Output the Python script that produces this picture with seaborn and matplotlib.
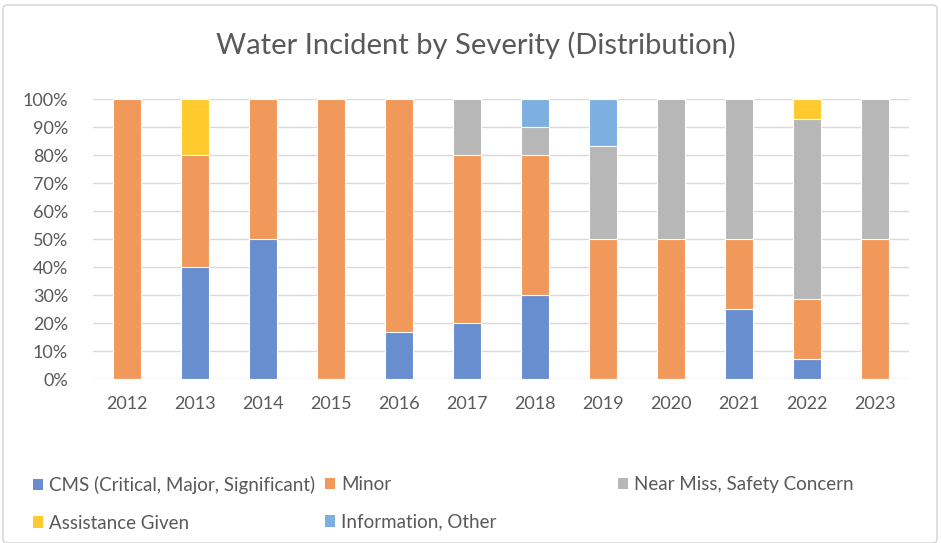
import numpy as np
import pandas as pd
import seaborn as sns
import matplotlib.pyplot as plt
from matplotlib.patches import Patch, FancyBboxPatch

# Share of incidents per year, by severity (percent)
years = ['2012', '2013', '2014', '2015', '2016', '2017',
         '2018', '2019', '2020', '2021', '2022', '2023']
cms = [0, 40, 50, 0, 16.67, 20, 30, 0, 0, 25, 7.14, 0]
minor = [100, 40, 50, 100, 83.33, 60, 50, 50, 50, 25, 21.43, 50]
near_miss = [0, 0, 0, 0, 0, 20, 10, 33.33, 50, 50, 64.29, 50]
assistance = [0, 20, 0, 0, 0, 0, 0, 0, 0, 0, 7.14, 0]
info_other = [0, 0, 0, 0, 0, 0, 10, 16.67, 0, 0, 0, 0]

series_names = ['CMS (Critical, Major, Significant)', 'Minor',
                'Near Miss, Safety Concern', 'Assistance Given',
                'Information, Other']
colors = ['#698ED0', '#F0995A', '#B7B7B7', '#FFCA2E', '#7DAFE0']

df = pd.DataFrame({'year': years, series_names[0]: cms, series_names[1]: minor,
                   series_names[2]: near_miss, series_names[3]: assistance,
                   series_names[4]: info_other})
cum = df[series_names].cumsum(axis=1)

sns.set_style('white')
plt.rcParams['font.family'] = ['Lato', 'DejaVu Sans']
text_col = '#595959'

fig = plt.figure(figsize=(9.41, 5.43), dpi=100)
ax = fig.add_axes([93 / 941, 1 - 379 / 543, 816 / 941, 280 / 543])

# stacked bars: draw cumulative totals from the top layer down
for name, col in reversed(list(zip(series_names, colors))):
    sns.barplot(x=df['year'], y=cum[name], color=col, width=0.4, saturation=1,
                edgecolor='white', linewidth=0.8, ax=ax, zorder=3)

ax.set_ylim(0, 100)
ax.set_yticks(range(0, 101, 10))
ax.set_yticklabels([f'{v}%' for v in range(0, 101, 10)])
ax.set_xlabel('')
ax.set_ylabel('')
ax.grid(axis='y', color='#D9D9D9', linewidth=1, zorder=0)
ax.set_axisbelow(True)
for s in ax.spines.values():
    s.set_visible(False)
ax.tick_params(axis='both', length=0, colors=text_col, labelsize=13)
ax.tick_params(axis='y', pad=18)
ax.tick_params(axis='x', pad=12)

fig.text(476 / 941, 1 - 45 / 543, 'Water Incident by Severity (Distribution)',
         ha='center', va='center', fontsize=21, color=text_col)

# legend laid out in Excel-style fixed columns
handles = [Patch(facecolor=c, edgecolor='none') for c in colors]
columns = [([0, 3], 33), ([1, 4], 325), ([2], 618)]
for idx, xpix in columns:
    leg = fig.legend([handles[i] for i in idx], [series_names[i] for i in idx],
                     loc='upper left', bbox_to_anchor=(xpix / 941, 1 - 476 / 543),
                     frameon=False, fontsize=13.5, handlelength=0.55,
                     handleheight=0.55, handletextpad=0.3, labelspacing=1.1,
                     borderpad=0, borderaxespad=0)
    for t in leg.get_texts():
        t.set_color(text_col)

fig.patches.append(FancyBboxPatch((3 / 941, 0), 934 / 941, 1 - 5 / 543,
                                  boxstyle='round,pad=0,rounding_size=0.006',
                                  transform=fig.transFigure, fill=False,
                                  edgecolor='#D9D9D9', linewidth=1.2))

fig.savefig('out.png', dpi=100)
